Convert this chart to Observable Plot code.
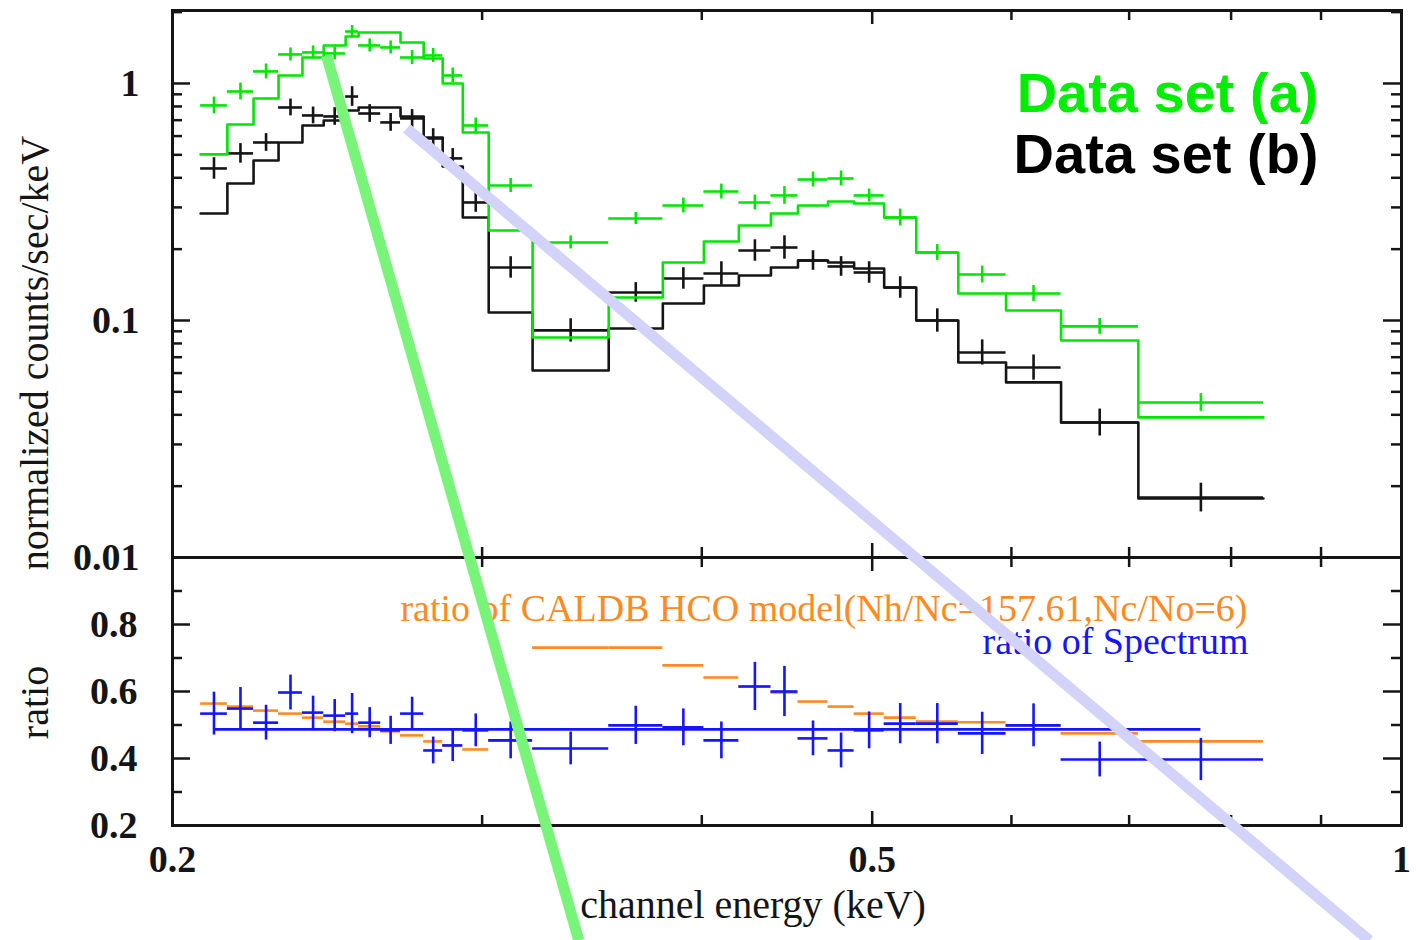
<!DOCTYPE html>
<html>
<head>
<meta charset="utf-8">
<script src="https://cdn.jsdelivr.net/npm/d3@7"></script>
<script src="https://cdn.jsdelivr.net/npm/@observablehq/plot@0.6"></script>
<style>
html, body { margin: 0; padding: 0; background: #fff; }
#wrap { position: relative; width: 1416px; height: 940px; overflow: hidden; background: #fff; }
#wrap svg { position: absolute; left: 0; top: 0; }
</style>
</head>
<body>
<div id="wrap"></div>
<script>
// ---- channel bin edges (keV) ----
const binEdges = [0.2075, 0.2149, 0.2224, 0.2298, 0.2371, 0.2438, 0.2509, 0.2552, 0.2627, 0.2696,
  0.2779, 0.2849, 0.2925, 0.3026, 0.3205, 0.3541, 0.3801, 0.4011, 0.4199, 0.4379,
  0.4537, 0.4719, 0.4883, 0.5079, 0.5297, 0.5597, 0.5958, 0.6403, 0.7085, 0.8346];

// ---- Data set (a) (green) ----
const dataA = [0.808, 0.925, 1.124, 1.326, 1.352, 1.339, 1.657, 1.447, 1.419, 1.287,
  1.313, 1.081, 0.665, 0.371, 0.2134, 0.2694, 0.3056, 0.350, 0.3147, 0.3369,
  0.3934, 0.3973, 0.3369, 0.2720, 0.1936, 0.1563, 0.1300, 0.0944, 0.0451];
const errA = [0.085, 0.085, 0.075, 0.065, 0.065, 0.065, 0.06, 0.065, 0.065, 0.07,
  0.07, 0.075, 0.075, 0.07, 0.065, 0.06, 0.075, 0.075, 0.075, 0.09,
  0.075, 0.075, 0.065, 0.085, 0.08, 0.085, 0.08, 0.08, 0.09];
const modelA = [0.502, 0.671, 0.864, 1.081, 1.287, 1.447, 1.579, 1.641, 1.641, 1.489,
  1.275, 1.00, 0.621, 0.2398, 0.0848, 0.1250, 0.1757, 0.2154, 0.2518, 0.2828,
  0.3056, 0.3178, 0.3117, 0.2720, 0.1936, 0.1300, 0.1102, 0.0823, 0.0390];

// ---- Data set (b) (black) ----
const dataB = [0.438, 0.507, 0.5637, 0.792, 0.733, 0.726, 0.881, 0.747, 0.685, 0.712,
  0.586, 0.483, 0.3147, 0.1674, 0.0908, 0.1313, 0.1504, 0.1579, 0.1974, 0.2032,
  0.1791, 0.1690, 0.1594, 0.1378, 0.100, 0.0733, 0.0633, 0.0371, 0.0179];
const errB = [0.11, 0.1, 0.09, 0.085, 0.085, 0.09, 0.1, 0.09, 0.09, 0.09,
  0.1, 0.1, 0.1, 0.11, 0.12, 0.1, 0.11, 0.12, 0.11, 0.12,
  0.1, 0.1, 0.11, 0.11, 0.12, 0.13, 0.13, 0.14, 0.15];
const modelB = [0.2828, 0.3785, 0.4733, 0.5637, 0.665, 0.698, 0.769, 0.792, 0.792, 0.726,
  0.592, 0.4465, 0.2720, 0.1081, 0.0615, 0.0925, 0.1179, 0.1405, 0.1548, 0.1674,
  0.1791, 0.1757, 0.1658, 0.1378, 0.100, 0.0665, 0.0548, 0.0371, 0.01774];

// ---- ratio panel ----
const ratioSpectrum = [0.534, 0.549, 0.507, 0.597, 0.537, 0.528, 0.534, 0.507, 0.484, 0.534,
  0.424, 0.439, 0.484, 0.454, 0.430, 0.499, 0.493, 0.454, 0.615, 0.600,
  0.460, 0.424, 0.484, 0.504, 0.504, 0.475, 0.499, 0.397, 0.397];
const ratioSpectrumErr = [0.064, 0.063, 0.052, 0.052, 0.049, 0.048, 0.06, 0.045, 0.042, 0.049,
  0.04, 0.048, 0.049, 0.055, 0.049, 0.057, 0.055, 0.055, 0.072, 0.075,
  0.052, 0.052, 0.055, 0.06, 0.06, 0.063, 0.064, 0.052, 0.063];
const ratioModel = [0.564, 0.555, 0.543, 0.534, 0.522, 0.510, 0.504, 0.496, 0.481, 0.469,
  0.451, 0.439, 0.427, 0.454, 0.731, 0.731, 0.678, 0.642, 0.615, 0.597,
  0.570, 0.555, 0.534, 0.522, 0.510, 0.508, 0.499, 0.475, 0.451];
const spectrumRatioLevel = 0.487;

// ---- ticks and labels ----
const xLabelTicks = [0.2, 0.5, 1];
const xMajorTicks = [0.5];
const xMinorTicks = [0.3, 0.4, 0.6, 0.7, 0.8, 0.9];
const yTopLabelTicks = [0.01, 0.1, 1];
const yTopMajorTicks = [0.1, 1];
const yTopMinorTicks = [0.02, 0.03, 0.04, 0.05, 0.06, 0.07, 0.08, 0.09, 0.2, 0.3, 0.4, 0.5, 0.6, 0.7, 0.8, 0.9, 2];
const yBotLabelTicks = [0.2, 0.4, 0.6, 0.8];
const yBotMajorTicks = [0.4, 0.6, 0.8];
const yBotMinorTicks = [0.3, 0.5, 0.7, 0.9];
const legendLabels = ["Data set (a)", "Data set (b)"];
const ratioLabels = ["ratio of CALDB HCO model(Nh/Nc=157.61,Nc/No=6)", "ratio of Spectrum"];
const yTitleTop = "normalized counts/sec/keV";
const yTitleBottom = "ratio";
const xTitle = "channel energy (keV)";

// ---- overlay strokes (in top-panel data units: keV, counts) ----
const overlayGreen = [{x: 0.2447, y: 1.313}, {x: 0.3405, y: 0.000242}];
const overlayLavender = [{x: 0.2718, y: 0.6456}, {x: 0.9588, y: 0.000242}];

// ---- colours ----
const cGreen = "#00e600";
const cBlack = "#151515";
const cBlue = "#1515ff";
const cOrange = "#ff8a22";
const serif = "'Liberation Serif', 'Times New Roman', serif";
const sans = "'Liberation Sans', Arial, sans-serif";

// ---- layout ----
const W = 1416, H = 940, ML = 172, MR = 15;
const TOP = 10, MID = 557, BOT = 825;
const FW = W - ML - MR;
const FHtop = MID - TOP, FHbot = BOT - MID;

function binRows(vals, errs, rel) {
  return vals.map((v, i) => {
    const lo = binEdges[i], hi = binEdges[i + 1];
    const e = errs ? errs[i] : 0;
    return {lo, hi, c: Math.sqrt(lo * hi), v,
      y1: rel ? v / (1 + e) : v - e, y2: rel ? v * (1 + e) : v + e};
  });
}
function stepRows(vals) {
  return binEdges.map((e, i) => ({x: e, y: vals[Math.min(i, vals.length - 1)]}));
}
function crossMarks(rows, color, sw = 2.6) {
  return [
    Plot.ruleY(rows, {x1: "lo", x2: "hi", y: "v", stroke: color, strokeWidth: sw}),
    Plot.ruleX(rows, {x: "c", y1: "y1", y2: "y2", stroke: color, strokeWidth: sw})
  ];
}
function tickMarks(FH, xMajor, xMinor, yMajor, yMinor) {
  const s = {stroke: cBlack, strokeWidth: 2.5};
  return [
    Plot.ruleX(xMinor, {x: d => d, insetBottom: FH - 10, ...s}),
    Plot.ruleX(xMajor, {x: d => d, insetBottom: FH - 14, ...s}),
    Plot.ruleX(xMinor, {x: d => d, insetTop: FH - 10, ...s}),
    Plot.ruleX(xMajor, {x: d => d, insetTop: FH - 14, ...s}),
    Plot.ruleY(yMinor, {y: d => d, insetRight: FW - 10, ...s}),
    Plot.ruleY(yMajor, {y: d => d, insetRight: FW - 18, ...s}),
    Plot.ruleY(yMinor, {y: d => d, insetLeft: FW - 10, ...s}),
    Plot.ruleY(yMajor, {y: d => d, insetLeft: FW - 18, ...s})
  ];
}

// ---------- bottom (ratio) panel ----------
const ratioRows = binRows(ratioSpectrum, ratioSpectrumErr, false);
const ratioModelRows = binRows(ratioModel, null, false);
const centers = ratioRows.map(r => r.c);

const bottomPlot = Plot.plot({
  width: W, height: H,
  marginLeft: ML, marginRight: MR, marginTop: MID, marginBottom: H - BOT,
  style: {fontFamily: serif, background: "white"},
  x: {type: "log", domain: [0.2, 1], axis: null},
  y: {type: "linear", domain: [0.2, 1.0], axis: null},
  marks: [
    Plot.ruleY(ratioModelRows, {x1: "lo", x2: "hi", y: "v", stroke: cOrange, strokeWidth: 2.6}),
    Plot.ruleY([spectrumRatioLevel], {x1: () => centers[0], x2: () => centers[centers.length - 1], y: d => d, stroke: cBlue, strokeWidth: 2.6}),
    ...crossMarks(ratioRows, cBlue),
    ...tickMarks(FHbot, xMajorTicks, xMinorTicks, yBotMajorTicks, yBotMinorTicks),
    Plot.frame({stroke: cBlack, strokeWidth: 3}),
    Plot.text(yBotLabelTicks, {y: d => d, text: d => String(d), frameAnchor: "left", textAnchor: "end", dx: -35,
      fontSize: 38, fontWeight: "bold", fill: cBlack}),
    Plot.text(xLabelTicks, {x: d => d, text: d => String(d), frameAnchor: "bottom", textAnchor: "middle", dy: 34, lineAnchor: "middle",
      fontSize: 38, fontWeight: "bold", fill: cBlack}),
    Plot.text([xTitle], {text: d => d, frameAnchor: "bottom", textAnchor: "middle", dx: -34, dy: 80, lineAnchor: "middle",
      fontSize: 40, fill: cBlack}),
    Plot.text([yTitleBottom], {text: d => d, frameAnchor: "left", textAnchor: "middle", lineAnchor: "middle",
      dx: -137, dy: 11, rotate: -90, fontSize: 40, fill: cBlack}),
    Plot.text([ratioLabels[0]], {text: d => d, frameAnchor: "top-right", textAnchor: "end", lineAnchor: "top",
      dx: -154, dy: 37, fontSize: 38, fill: cOrange}),
    Plot.text([ratioLabels[1]], {text: d => d, frameAnchor: "top-right", textAnchor: "end", lineAnchor: "top",
      dx: -153, dy: 70, fontSize: 38, fill: cBlue})
  ]
});

// ---------- top (spectrum) panel, also carries the overlay strokes ----------
const rowsA = binRows(dataA, errA, true);
const rowsB = binRows(dataB, errB, true);

const topPlot = Plot.plot({
  width: W, height: H,
  marginLeft: ML, marginRight: MR, marginTop: TOP, marginBottom: H - MID,
  style: {fontFamily: serif, background: "transparent"},
  x: {type: "log", domain: [0.2, 1], axis: null},
  y: {type: "log", domain: [0.01, 2.032], axis: null},
  marks: [
    Plot.line(stepRows(modelB), {x: "x", y: "y", curve: "step-after", stroke: cBlack, strokeWidth: 2.6}),
    ...crossMarks(rowsB, cBlack),
    Plot.line(stepRows(modelA), {x: "x", y: "y", curve: "step-after", stroke: cGreen, strokeWidth: 2.6}),
    ...crossMarks(rowsA, cGreen),
    ...tickMarks(FHtop, xMajorTicks, xMinorTicks, yTopMajorTicks, yTopMinorTicks),
    Plot.frame({stroke: cBlack, strokeWidth: 3}),
    Plot.text(yTopLabelTicks, {y: d => d, text: d => String(d), frameAnchor: "left", textAnchor: "end", dx: -33,
      fontSize: 38, fontWeight: "bold", fill: cBlack}),
    Plot.text([yTitleTop], {text: d => d, frameAnchor: "left", textAnchor: "middle", lineAnchor: "middle",
      dx: -137, dy: 69, rotate: -90, fontSize: 40, fill: cBlack}),
    Plot.text([legendLabels[0]], {text: d => d, frameAnchor: "top-right", textAnchor: "end", lineAnchor: "top",
      dx: -83, dy: 62, fontFamily: sans, fontWeight: "bold", fontSize: 56, fill: "#00ee00"}),
    Plot.text([legendLabels[1]], {text: d => d, frameAnchor: "top-right", textAnchor: "end", lineAnchor: "top",
      dx: -83, dy: 123, fontFamily: sans, fontWeight: "bold", fontSize: 56, fill: "#000"}),
    Plot.line(overlayGreen, {x: "x", y: "y", stroke: "#78f578", strokeWidth: 11, strokeLinecap: "butt"}),
    Plot.line(overlayLavender, {x: "x", y: "y", stroke: "#d3d3fa", strokeWidth: 11, strokeLinecap: "butt"})
  ]
});

const wrap = document.getElementById("wrap");
wrap.appendChild(bottomPlot);
wrap.appendChild(topPlot);
</script>
</body>
</html>
